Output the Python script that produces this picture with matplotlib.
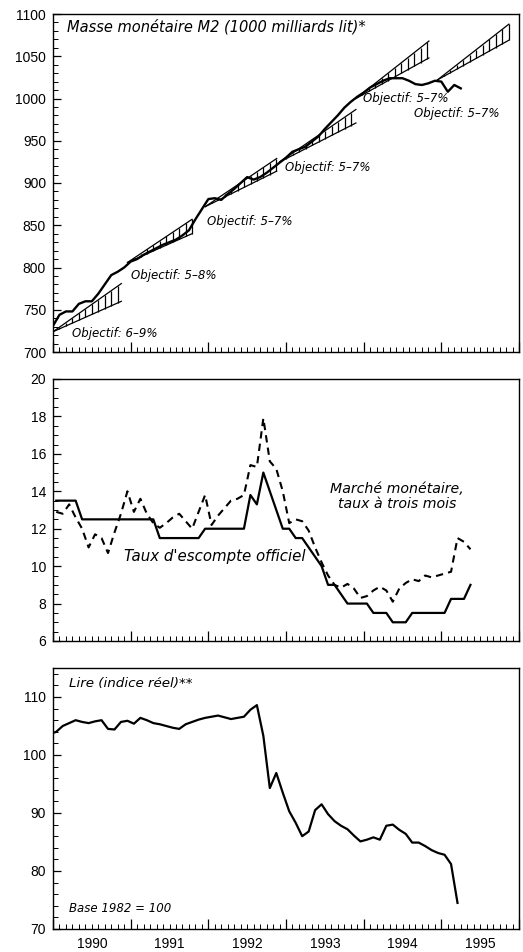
import numpy as np
import matplotlib
matplotlib.use("Agg")
import matplotlib.pyplot as plt
from matplotlib.ticker import MultipleLocator

plt.rcParams["font.family"] = ["Liberation Sans Narrow", "Liberation Sans", "DejaVu Sans"]

# --- M2 money stock (1000 billion lire), end of month, from Dec 1989
m2_values = [731, 744, 748, 748, 757, 760, 760, 769, 780, 791,
             795, 800, 807, 810, 815, 819, 823, 827, 830, 833,
             838, 844, 857, 869, 881, 882, 880, 887, 893, 900,
             907, 904, 907, 912, 918, 924, 930, 937, 940, 943,
             949, 955, 964, 972, 980, 989, 996, 1002, 1007, 1013,
             1017, 1021, 1024, 1024, 1024, 1021, 1017, 1016, 1018, 1021,
             1020, 1008, 1016, 1012]

# target corridors: start year, end year, start level, low end, high end
target_start = [1990.0, 1990.96, 1991.96, 1992.92, 1993.9, 1994.95]
target_end = [1990.88, 1991.79, 1992.88, 1993.9, 1994.84, 1995.87]
target_base = [724, 806, 872, 925, 1000, 1022]
target_low = [760, 840, 914, 971, 1048, 1069]
target_high = [781, 857, 929, 987, 1068, 1088]
target_labels = ["Objectif: 6–9%", "Objectif: 5–8%", "Objectif: 5–7%",
                 "Objectif: 5–7%", "Objectif: 5–7%", "Objectif: 5–7%"]
target_label_x = [1990.24, 1991.0, 1991.98, 1992.99, 1993.99, 1994.65]
target_label_y = [722, 791, 854, 918, 1000, 982]

# --- interest rates, monthly from Jan 1990
discount_rate = [13.5, 13.5, 13.5, 13.5, 12.5, 12.5, 12.5, 12.5, 12.5, 12.5,
                 12.5, 12.5, 12.5, 12.5, 12.5, 12.5, 11.5, 11.5, 11.5, 11.5,
                 11.5, 11.5, 11.5, 12, 12, 12, 12, 12, 12, 12,
                 13.8, 13.3, 15, 14, 13, 12, 12, 11.5, 11.5, 11,
                 10.5, 10, 9, 9, 8.5, 8, 8, 8, 8, 7.5,
                 7.5, 7.5, 7, 7, 7, 7.5, 7.5, 7.5, 7.5, 7.5,
                 7.5, 8.25, 8.25, 8.25, 9]
money_market = [12.9, 12.8, 13.3, 12.6, 12.0, 11.0, 11.7, 11.5, 10.7, 11.8,
                12.8, 14.0, 12.9, 13.6, 12.8, 12.3, 12.05, 12.3, 12.6, 12.8,
                12.4, 12.0, 12.9, 13.8, 12.2, 12.7, 13.1, 13.5, 13.6, 13.8,
                15.4, 15.3, 17.9, 15.6, 15.2, 14.0, 12.3, 12.5, 12.4, 11.9,
                11.0, 10.2, 9.5, 9.0, 8.85, 9.05, 8.8, 8.3, 8.4, 8.7,
                8.9, 8.7, 8.1, 8.8, 9.1, 9.3, 9.2, 9.5, 9.4, 9.5,
                9.6, 9.7, 11.5, 11.3, 10.9]

# --- real lira index (1982 = 100), monthly from Dec 1989
lira_index = [103.6, 104.0, 105.0, 105.5, 106.0, 105.7, 105.5, 105.8, 106.0, 104.5,
              104.4, 105.7, 105.9, 105.4, 106.4, 106.0, 105.5, 105.3, 105.0, 104.7,
              104.5, 105.3, 105.7, 106.1, 106.4, 106.6, 106.8, 106.5, 106.2, 106.4,
              106.6, 107.8, 108.6, 103.3, 94.3, 96.9, 93.5, 90.3, 88.3, 86.0,
              86.8, 90.5, 91.5, 89.8, 88.6, 87.8, 87.2, 86.1, 85.1, 85.4,
              85.8, 85.4, 87.8, 88.0, 87.1, 86.4, 84.9, 84.9, 84.3, 83.6,
              83.1, 82.8, 81.2, 74.5]

years = [1990, 1991, 1992, 1993, 1994, 1995]

m2_t = 1990 + np.arange(len(m2_values)) / 12
rate_t = 1990 + (np.arange(len(discount_rate)) + 0.5) / 12
mm_t = 1990 + (np.arange(len(money_market)) + 0.5) / 12
lira_t = 1990 + (np.arange(len(lira_index)) - 0.5) / 12

W, H = 523, 952
fig = plt.figure(figsize=(W / 100, H / 100), dpi=100)


def box(left, top, right, bottom):
    return [left / W, 1 - bottom / H, (right - left) / W, (bottom - top) / H]


ax1 = fig.add_axes(box(53, 14, 519, 352))
ax2 = fig.add_axes(box(53, 379, 519, 641))
ax3 = fig.add_axes(box(53, 668, 519, 929))

# annotations use a wider face than the tick numbers
italic = dict(style="italic", color="black", family=["DejaVu Sans"])

for ax in (ax1, ax2, ax3):
    ax.set_xlim(1990, 1996)
    ax.xaxis.set_major_locator(MultipleLocator(1))
    ax.xaxis.set_minor_locator(MultipleLocator(1 / 12))
    ax.tick_params(axis="x", which="both", direction="in", top=False,
                   labelbottom=False)
    ax.tick_params(axis="x", which="major", length=7, width=0.9)
    ax.tick_params(axis="x", which="minor", length=3.5, width=0.7)
    ax.tick_params(axis="y", which="both", direction="in", right=False,
                   labelsize=10, pad=5)
    ax.tick_params(axis="y", which="major", length=6, width=0.9)
    ax.tick_params(axis="y", which="minor", length=3.5, width=0.7)
    for sp in ax.spines.values():
        sp.set_linewidth(1.0)

# ---- panel 1: M2
ax1.set_ylim(700, 1100)
ax1.yaxis.set_major_locator(MultipleLocator(50))
ax1.yaxis.set_minor_locator(MultipleLocator(10))
for i in range(len(target_start)):
    t0, t1 = target_start[i], target_end[i]
    b = target_base[i]
    ax1.plot([t0, t1], [b, target_low[i]], color="black", lw=0.9)
    ax1.plot([t0, t1], [b, target_high[i]], color="black", lw=0.9)
    hx = np.arange(t0 + 1 / 12, t1 + 0.01, 1 / 12)
    hx = np.clip(hx, t0, t1)
    frac = (hx - t0) / (t1 - t0)
    lo = b + frac * (target_low[i] - b)
    hi = b + frac * (target_high[i] - b)
    ax1.vlines(hx, lo, hi, color="black", lw=0.9)
    ax1.text(target_label_x[i], target_label_y[i], target_labels[i],
             fontsize=8.5, va="center", ha="left", **italic)
ax1.plot(m2_t, m2_values, color="black", lw=1.7)
ax1.text(1990.18, 1085, "Masse monétaire M2 (1000 milliards lit)*",
         fontsize=10.5, va="center", ha="left", **italic)

# ---- panel 2: rates
ax2.set_ylim(6, 20)
ax2.yaxis.set_major_locator(MultipleLocator(2))
ax2.yaxis.set_minor_locator(MultipleLocator(0.5))
ax2.plot(rate_t, discount_rate, color="black", lw=1.6)
ax2.plot(mm_t, money_market, color="black", lw=1.5, linestyle=(0, (3.5, 2.5)))
ax2.text(1994.43, 13.7, "Marché monétaire,\ntaux à trois mois",
         fontsize=10.2, ha="center", va="center", linespacing=1.1, **italic)
ax2.text(1990.92, 10.5, "Taux d'escompte officiel",
         fontsize=10.8, ha="left", va="center", **italic)

# ---- panel 3: lira
ax3.set_ylim(70, 115)
ax3.set_yticks([70, 80, 90, 100, 110])
ax3.yaxis.set_minor_locator(MultipleLocator(2))
ax3.plot(lira_t, lira_index, color="black", lw=1.6)
ax3.text(1990.2, 112.3, "Lire (indice réel)**", fontsize=9.7,
         ha="left", va="center", **italic)
ax3.text(1990.2, 73.6, "Base 1982 = 100", fontsize=8.5,
         ha="left", va="center", **italic)

sec = ax3.secondary_xaxis("bottom")
sec.set_xticks([y + 0.5 for y in years], [str(y) for y in years])
sec.tick_params(length=0, labelsize=10, pad=6)
sec.spines["bottom"].set_visible(False)

fig.savefig("out.png", dpi=100)
